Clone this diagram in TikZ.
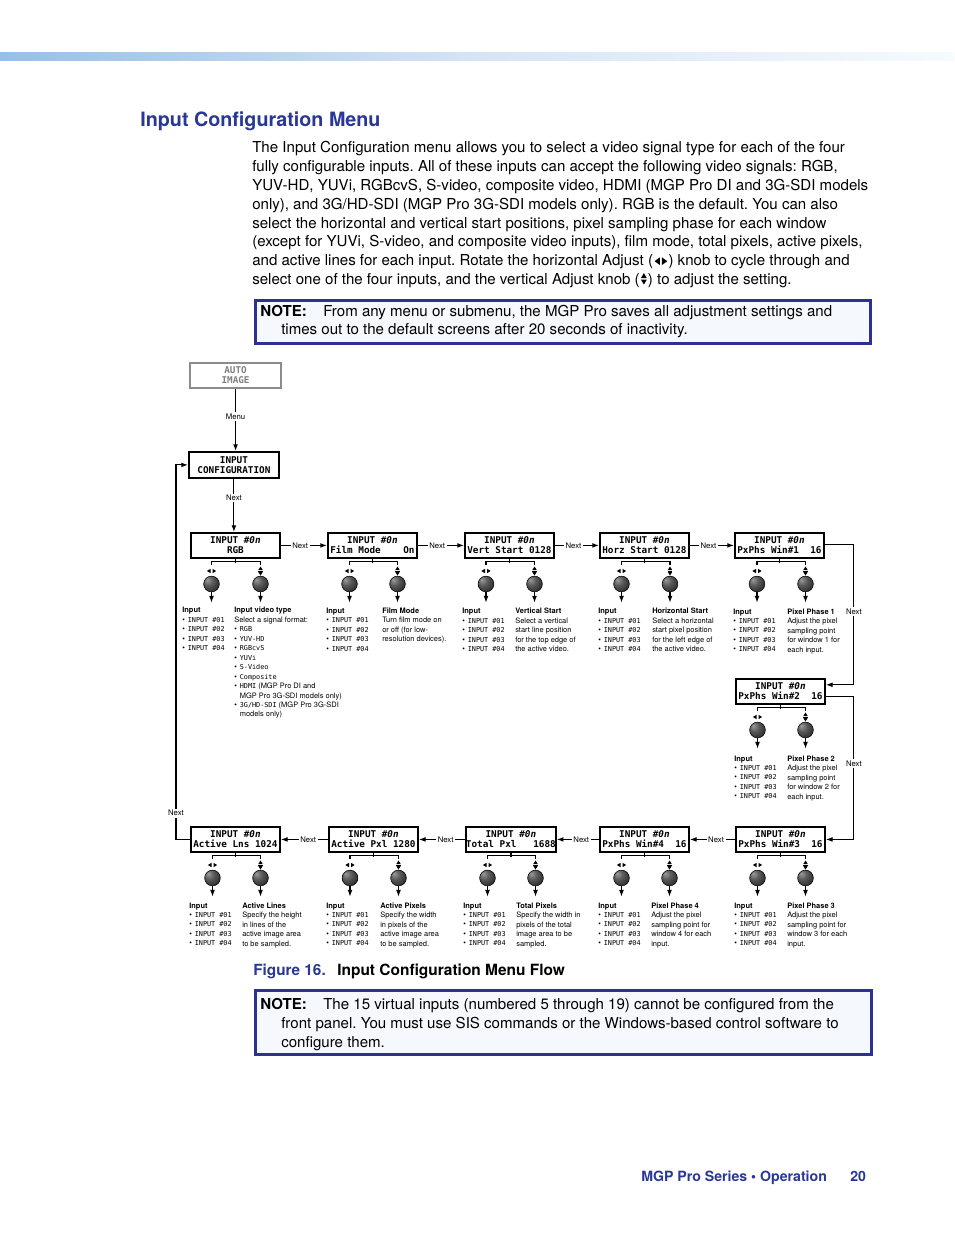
\documentclass[tikz,border=0pt]{standalone}
\usepackage{fontspec}
\setmainfont{TeX Gyre Heros}
\newfontfamily\lcdf{DejaVu Sans Mono}
\usetikzlibrary{arrows.meta}
\frenchspacing
\definecolor{xblue}{RGB}{41,56,150}
\definecolor{nblue}{RGB}{46,49,146}
\definecolor{nfill}{RGB}{245,249,254}
\definecolor{bandA}{RGB}{150,192,230}
\definecolor{bandB}{RGB}{214,228,246}
\definecolor{bandC}{RGB}{246,251,254}
\definecolor{knobhi}{RGB}{155,155,155}
\definecolor{knobmid}{RGB}{88,88,88}
\definecolor{knobdk}{RGB}{45,45,45}
\pgfdeclareradialshading{knobshade}{\pgfpoint{-14bp}{14bp}}{color(0bp)=(knobhi); color(16bp)=(knobmid); color(34bp)=(knobdk); color(70bp)=(black)}
\newcommand\smono{\lcdf\fontsize{5.1}{7.1}\selectfont}
\newcommand\inl[1]{\textbullet\hspace{2.2pt}{\smono #1}}
\newcommand\lind{\phantom{\textbullet}\hspace{2.2pt}}
\tikzset{
  lcd/.style={draw=black, line width=1.4pt, minimum width=66.75pt, minimum height=18.75pt,
    inner sep=0pt, align=center, anchor=north west,
    font=\lcdf\bfseries\fontsize{7}{7.5}\selectfont},
  lbl/.style={fill=white, inner sep=1.2pt, font=\fontsize{5.8}{7}\selectfont},
  arr/.style={line width=0.8pt, -{Latex[length=5pt,width=3.6pt]}},
  brk/.style={line width=1.3pt},
  knob/.style={circle, minimum size=11.8pt, inner sep=0pt, draw=black, line width=0.4pt, shading=knobshade},
  txt/.style={inner sep=0pt, anchor=north west, align=left, font=\fontsize{5.6}{7.1}\selectfont},
  body/.style={inner sep=0pt, anchor=base west, font=\fontsize{11.3}{14}\selectfont},
  notebox/.style={draw=nblue, fill=nfill, line width=1.9pt, anchor=north west, inner sep=0pt},
}
\newcommand\knobs[4]{%
  \draw[brk] (#1.south) -- ++(0,4.5);
  \draw[brk] (#2,#4+7.5) -- (#2,#4+4.5) -- (#3,#4+4.5) -- (#3,#4+7.5);
  \fill (#2-1,#4+11.8) -- (#2-4.6,#4+14) -- (#2-1,#4+16.2) -- cycle;
  \fill (#2+1,#4+11.8) -- (#2+4.6,#4+14) -- (#2+1,#4+16.2) -- cycle;
  \fill (#3-2.2,#4+13) -- (#3,#4+9.5) -- (#3+2.2,#4+13) -- cycle;
  \fill (#3-2.2,#4+15) -- (#3,#4+18.5) -- (#3+2.2,#4+15) -- cycle;
  \draw[line width=0.4pt] (#3-2.2,#4+14) -- (#3+2.2,#4+14);
  \node[knob] (#1ka) at (#2,#4+27) {};
  \node[knob] (#1kb) at (#3,#4+27) {};
  \draw[arr] (#1ka.south) -- ++(0,10.5);
  \draw[arr] (#1kb.south) -- ++(0,10.5);
}
\newcommand\inputs[3]{%
  \node[txt] (#1) at (#2,#3) {\textbf{Input}\\\inl{INPUT \#01}\\\inl{INPUT \#02}\\\inl{INPUT \#03}\\\inl{INPUT \#04}};
}
\begin{document}
\begin{tikzpicture}[x=0.75pt,y=-0.75pt]
\useasboundingbox (0,0) rectangle (954,1235);
\fill[white] (0,0) rectangle (954,1235);
% top band
\shade[left color=bandA, right color=bandC, middle color=bandB] (0,52) rectangle (954,60.5);
% title and body
\node[anchor=base west, inner sep=0pt, font=\bfseries\fontsize{14.8}{17}\selectfont, text=xblue] (title) at (140,126) {Input Configuration Menu};
\node[body] (p1) at (252,152.8) {The Input Configuration menu allows you to select a video signal type for each of the four};
\node[body] (p2) at (252,171.6) {fully configurable inputs. All of these inputs can accept the following video signals: RGB,};
\node[body] (p3) at (252,190.4) {YUV-HD, YUVi, RGBcvS, S-video, composite video, HDMI (MGP Pro DI and 3G-SDI models};
\node[body] (p4) at (252,209.2) {only), and 3G/HD-SDI (MGP Pro 3G-SDI models only). RGB is the default. You can also};
\node[body] (p5) at (252,228.0) {select the horizontal and vertical start positions, pixel sampling phase for each window};
\node[body] (p6) at (252,246.8) {(except for YUVi, S-video, and composite video inputs), film mode, total pixels, active pixels,};
\node[body] (p7a) at (252,265.6) {and active lines for each input. Rotate the horizontal Adjust (};
\begin{scope}[shift={(p7a.base east)}]
  \fill (1.2,-4.4) -- (6.6,-8.2) -- (6.6,-0.6) -- cycle;
  \fill (14,-4.4) -- (8.6,-8.2) -- (8.6,-0.6) -- cycle;
\end{scope}
\node[body] (p7b) at ([xshift=11.2pt]p7a.base east) {) knob to cycle through and};
\node[body] (p8a) at (252,284.4) {select one of the four inputs, and the vertical Adjust knob (};
\begin{scope}[shift={(p8a.base east)}]
  \fill (1,-6.3) -- (3.9,-11.3) -- (6.8,-6.3) -- cycle;
  \fill (1,-4.8) -- (3.9,0.2) -- (6.8,-4.8) -- cycle;
\end{scope}
\node[body] (p8b) at ([xshift=5.8pt]p8a.base east) {) to adjust the setting.};
% note 1
\node[notebox, minimum width=461.25pt, minimum height=32.25pt] (n1) at (254,299) {};
\node[body] (n1a) at (260,316) {\textbf{NOTE:}};
\node[body] (n1b) at (323,316) {From any menu or submenu, the MGP Pro saves all adjustment settings and};
\node[body] (n1c) at (281,334.5) {times out to the default screens after 20 seconds of inactivity.};
% top of flow
\node[lcd, draw=black!45, text=black!50, line width=1.6pt, minimum width=68.25pt] (auto) at (189,362) {AUTO\\IMAGE};
\node[lcd, minimum width=67.5pt, minimum height=19.5pt] (ic) at (188,451) {INPUT\\CONFIGURATION};
\draw[arr] (auto.south) -- node[lbl,pos=0.44]{Menu} (auto.south |- ic.north);
\draw[arr] (ic.south) -- node[lbl,pos=0.36]{Next} (ic.south |- 0,532);
% row 1
\node[lcd] (b1) at (190,532) {INPUT \textit{\#0n}\\RGB};
\node[lcd] (b2) at (327,532) {INPUT \textit{\#0n}\\Film~Mode~~~~On};
\node[lcd] (b3) at (464,532) {INPUT \textit{\#0n}\\Vert~Start~0128};
\node[lcd] (b4) at (599,532) {INPUT \textit{\#0n}\\Horz~Start~0128};
\node[lcd] (b5) at (734,532) {INPUT \textit{\#0n}\\PxPhs~Win\#1~~16};
% row 2
\node[lcd] (b6) at (735,678) {INPUT \textit{\#0n}\\PxPhs~Win\#2~~16};
% row 3
\node[lcd] (b7) at (735,826) {INPUT \textit{\#0n}\\PxPhs~Win\#3~~16};
\node[lcd] (b8) at (599,826) {INPUT \textit{\#0n}\\PxPhs~Win\#4~~16};
\node[lcd] (b9) at (465,826) {INPUT \textit{\#0n}\\Total~Pxl~~~1688};
\node[lcd] (b10) at (328,826) {INPUT \textit{\#0n}\\Active~Pxl~1280};
\node[lcd] (b11) at (190,826) {INPUT \textit{\#0n}\\Active~Lns~1024};
% connectors
\draw[arr] (b1.east) -- node[lbl,pos=0.42]{Next} (b2.west);
\draw[arr] (b2.east) -- node[lbl,pos=0.42]{Next} (b3.west);
\draw[arr] (b3.east) -- node[lbl,pos=0.42]{Next} (b4.west);
\draw[arr] (b4.east) -- node[lbl,pos=0.42]{Next} (b5.west);
\draw[arr] ([yshift=1pt]b5.east) -- ++(29,0) |- node[lbl,pos=0.24]{Next} ([yshift=5pt]b6.east);
\draw[arr] ([yshift=-3.5pt]b6.east) -- ++(28,0) |- node[lbl,pos=0.235]{Next} (b7.east);
\draw[arr] (b7.west) -- node[lbl,pos=0.42]{Next} (b8.east);
\draw[arr] (b8.west) -- node[lbl,pos=0.42]{Next} (b9.east);
\draw[arr] (b9.west) -- node[lbl,pos=0.42]{Next} (b10.east);
\draw[arr] (b10.west) -- node[lbl,pos=0.42]{Next} (b11.east);
\draw[arr] (b11.west) -- ++(-14,0) |- node[lbl,pos=0.035]{Next} (ic.west);
% knobs
\knobs{b1}{211.5}{260.5}{557}
\knobs{b2}{349.5}{397.5}{557}
\knobs{b3}{486}{534.5}{557}
\knobs{b4}{621.5}{670}{557}
\knobs{b5}{757}{805.5}{557}
\knobs{b6}{757.5}{805.5}{703}
\knobs{b7}{757.5}{805.5}{851}
\knobs{b8}{621.5}{669.5}{851}
\knobs{b9}{487.5}{535.5}{851}
\knobs{b10}{350}{398.5}{851}
\knobs{b11}{212.5}{260.5}{851}
% row 1 texts
\inputs{i1}{182}{607}
\node[txt] (d1) at (234,607) {\textbf{Input video type}\\Select a signal format:\\\inl{RGB}\\\inl{YUV-HD}\\\inl{RGBcvS}\\\inl{YUVi}\\\inl{S-Video}\\\inl{Composite}\\\inl{HDMI} (MGP Pro DI and\\\lind MGP Pro 3G-SDI models only)\\\inl{3G/HD-SDI} (MGP Pro 3G-SDI\\\lind models only)};
\inputs{i2}{326}{607.5}
\node[txt] (d2) at (382,607.5) {\textbf{Film Mode}\\Turn film mode on\\or off (for low-\\resolution devices).};
\inputs{i3}{462}{608}
\node[txt] (d3) at (515,608) {\textbf{Vertical Start}\\Select a vertical\\start line position\\for the top edge of\\the active video.};
\inputs{i4}{598}{608}
\node[txt] (d4) at (652,608) {\textbf{Horizontal Start}\\Select a horizontal\\start pixel position\\for the left edge of\\the active video.};
\inputs{i5}{733}{608.3}
\node[txt] (d5) at (787,608.3) {\textbf{Pixel Phase 1}\\Adjust the pixel\\sampling point\\for window 1 for\\each input.};
% row 2 texts
\inputs{i6}{734}{755.3}
\node[txt] (d6) at (787,755.3) {\textbf{Pixel Phase 2}\\Adjust the pixel\\sampling point\\for window 2 for\\each input.};
% row 3 texts
\inputs{i7}{734}{902.3}
\node[txt] (d7) at (787,902.3) {\textbf{Pixel Phase 3}\\Adjust the pixel\\sampling point for\\window 3 for each\\input.};
\inputs{i8}{598}{902.3}
\node[txt] (d8) at (651,902.3) {\textbf{Pixel Phase 4}\\Adjust the pixel\\sampling point for\\window 4 for each\\input.};
\inputs{i9}{463}{902.3}
\node[txt] (d9) at (516,902.3) {\textbf{Total Pixels}\\Specify the width in\\pixels of the total\\image area to be\\sampled.};
\inputs{i10}{326}{902.3}
\node[txt] (d10) at (380,902.3) {\textbf{Active Pixels}\\Specify the width\\in pixels of the\\active image area\\to be sampled.};
\inputs{i11}{189}{902.3}
\node[txt] (d11) at (242,902.3) {\textbf{Active Lines}\\Specify the height\\in lines of the\\active image area\\to be sampled.};
% caption
\node[anchor=base west, inner sep=0pt, font=\bfseries\fontsize{11.5}{14}\selectfont, text=xblue] (cap1) at (253,975) {Figure 16.};
\node[anchor=base west, inner sep=0pt, font=\bfseries\fontsize{11.6}{14}\selectfont] (cap2) at (337,975) {Input Configuration Menu Flow};
% note 2
\node[notebox, minimum width=462pt, minimum height=48pt] (n2) at (254,989) {};
\node[body] (n2a) at (260,1009) {\textbf{NOTE:}};
\node[body] (n2b) at (323,1009) {The 15 virtual inputs (numbered 5 through 19) cannot be configured from the};
\node[body] (n2c) at (281,1028) {front panel. You must use SIS commands or the Windows-based control software to};
\node[body] (n2d) at (281,1047) {configure them.};
% footer
\node[anchor=base west, inner sep=0pt, font=\bfseries\fontsize{10.6}{13}\selectfont, text=xblue] (ft1) at (641,1181) {MGP Pro Series • Operation};
\node[anchor=base west, inner sep=0pt, font=\bfseries\fontsize{10.6}{13}\selectfont, text=xblue] (ft2) at (850,1181) {20};
\end{tikzpicture}
\end{document}
